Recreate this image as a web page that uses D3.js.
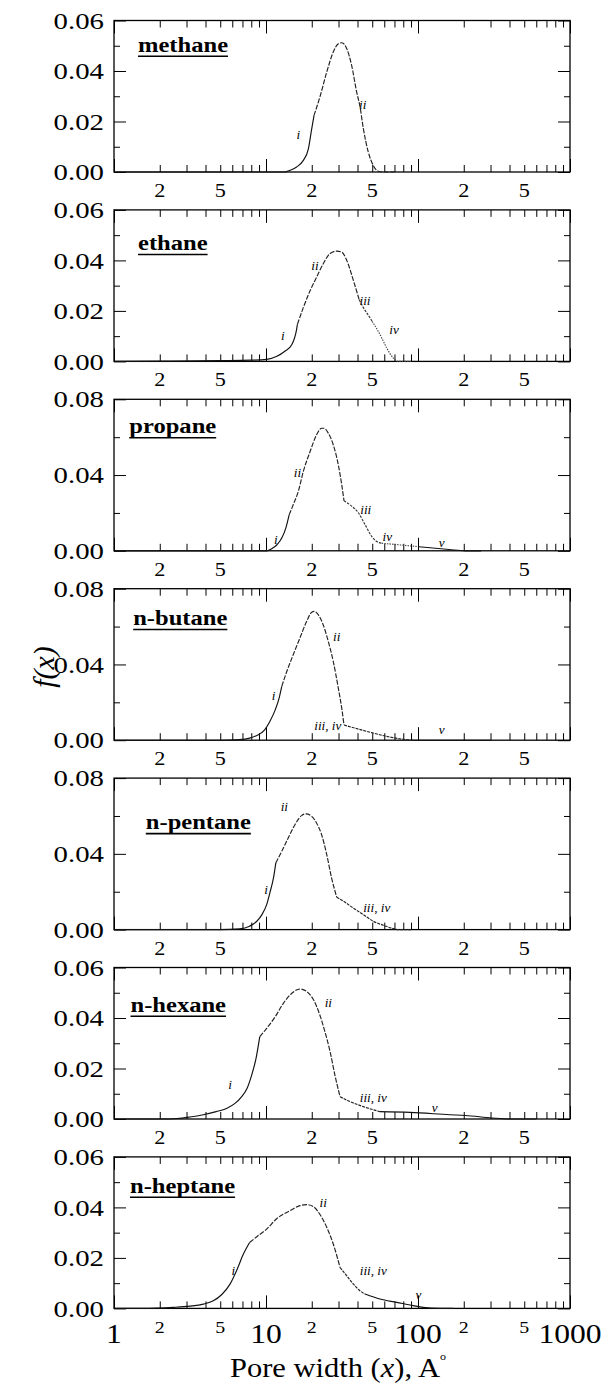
<!DOCTYPE html>
<html>
<head>
<meta charset="utf-8">
<script src="https://cdn.jsdelivr.net/npm/d3@7"></script>
<style>
  html, body { margin: 0; padding: 0; background: #fff; }
  svg { display: block; }
  text { font-family: "Liberation Serif", "Times New Roman", serif; fill: #000; }
</style>
</head>
<body>
<svg id="chart" width="603" height="1383"></svg>
<script>
// ---- data -------------------------------------------------------------
// Pore size distributions f(x) versus pore width x (Angstrom), one panel per gas.
const gases = ["methane", "ethane", "propane", "n-butane", "n-pentane", "n-hexane", "n-heptane"];
const yMax  = [0.06, 0.06, 0.08, 0.08, 0.08, 0.06, 0.06];

// y-axis tick values
const yLabelled06 = [0, 0.02, 0.04, 0.06];
const yMinor06    = [0.01, 0.03, 0.05];
const yLabelled08 = [0, 0.04, 0.08];
const yMinor08    = [0.02, 0.06];

// x-axis tick labels
const decadeValues  = [1, 10, 100, 1000];
const decadeLabels  = ["1", "10", "100", "1000"];
const midValues     = [2, 5, 20, 50, 200, 500];
const midLabels     = ["2", "5", "2", "5", "2", "5"];

// curve points [x, f(x)], regime boundaries and regime names
const methanePts = [[1,0],[10,0],[13.3,0],[14.4,0.0007],[15.9,0.002],[17.6,0.0046],[19.0,0.0092],[20.0,0.0172],[20.7,0.0224],
  [22.7,0.030],[25.1,0.0396],[27.7,0.0475],[29.9,0.0508],[31.5,0.0512],[34.0,0.0488],[36.6,0.0422],[39.5,0.0316],[41.5,0.026],
  [43.7,0.0172],[47.1,0.0079],[50.8,0.0026],[54.8,0.0003],[59,0],[70,0]];
const methaneBreaks = [20.7];
const methaneSegs = ["i", "ii"];
const methaneTags = [["i", 16.3, 0.0147], ["ii", 43.3, 0.0265]];

const ethanePts = [[1,0],[2,0.0001],[5,0.0003],[8,0.0005],[10.1,0.0008],[11.8,0.002],[13.3,0.004],[14.8,0.0067],[15.9,0.0127],[16.1,0.0147],
  [17.6,0.0213],[19.5,0.028],[21.5,0.0333],[23.8,0.0387],[26.4,0.0427],[29.2,0.0437],[31.5,0.0433],[34,0.040],[37.6,0.032],[41.1,0.0243],
  [43.7,0.0213],[48.3,0.0173],[50,0.0158],
  [56.2,0.0107],[62.3,0.0053],[68.8,0.0013],[74.2,0],[90,0]];
const ethaneBreaks = [16.1, 41.1, 50];
const ethaneSegs = ["i", "ii", "iii", "iv"];
const ethaneTags = [["i", 12.9, 0.0098], ["ii", 21, 0.0375], ["iii", 44.8, 0.0236], ["iv", 69.5, 0.0124]];

const propanePts = [[1,0],[10.1,0],[10.9,0.0011],[11.8,0.0032],[12.7,0.0067],[13.5,0.012],[14.2,0.019],
  [15.1,0.0243],[16.3,0.0313],[17.6,0.0419],[19.5,0.0524],[21.5,0.0612],[23.2,0.0647],[24.1,0.0647],[25.7,0.0621],[27.7,0.056],
  [29.9,0.0454],[31.5,0.0348],[32.6,0.0264],
  [36.6,0.0236],[40.5,0.0201],[44.8,0.0139],[49.6,0.0076],[53.5,0.0049],[57.7,0.004],
  [76.2,0.0031],[100,0.0022],
  [120,0.0016],[160,0.0007],[205,0],[260,0]];
const propaneBreaks = [14.2, 32.6, 57.7, 100];
const propaneSegs = ["i", "ii", "iii", "iv", "v"];
const propaneTags = [["i", 11.6, 0.0057], ["ii", 16.1, 0.041], ["iii", 45.3, 0.0215], ["iv", 62.8, 0.0069], ["v", 143, 0.004]];

const butanePts = [[1,0],[5,0],[6.7,0.0003],[7.8,0.0011],[8.9,0.0029],[9.8,0.0055],[10.6,0.0099],[11.5,0.016],[12.2,0.0222],[12.7,0.0284],
  [13.7,0.0363],[15.1,0.0451],[16.7,0.0539],[18.5,0.0627],[20.0,0.0676],[20.7,0.068],[22.1,0.0662],[23.8,0.0609],[25.7,0.0521],
  [27.7,0.0416],[29.9,0.0275],[31.5,0.0169],[32.6,0.008],
  [45.9,0.0047],[62.2,0.002],[80,0.0005],[93,0],
  [300,0]];
const butaneBreaks = [12.7, 32.6, 93];
const butaneSegs = ["i", "ii", "iii, iv", "v"];
const butaneTags = [["i", 11.2, 0.023], ["ii", 29.2, 0.0541], ["iii, iv", 25.5, 0.0071], ["v", 143, 0.0054]];

const pentanePts = [[1,0],[5,0],[6.7,0.0004],[7.8,0.0018],[8.7,0.0044],[9.4,0.0079],[10.1,0.0132],[10.6,0.0194],[11.2,0.0273],[11.6,0.0352],
  [12.7,0.0414],[14.0,0.0484],[15.5,0.0554],[17.2,0.0603],[18.3,0.0611],[20.0,0.0598],[21.5,0.0563],[23.2,0.0502],[25.1,0.0396],
  [27.0,0.0273],[29.2,0.0171],
  [32.3,0.015],[37.5,0.0114],[43.7,0.0079],[50.8,0.0044],[59.1,0.0023],[68.8,0.0005],[74.2,0],[90,0]];
const pentaneBreaks = [11.6, 29.2];
const pentaneSegs = ["i", "ii", "iii, iv"];
const pentaneTags = [["i", 10, 0.0209], ["ii", 13.2, 0.0646], ["iii, iv", 53.5, 0.0112]];

const hexanePts = [[1,0],[2,0],[2.6,0.0002],[3.16,0.0008],[3.87,0.0017],[4.7,0.0029],[5.5,0.0042],[6.25,0.0062],[6.9,0.0088],
  [7.5,0.0121],[8.05,0.0174],[8.6,0.024],[9.1,0.0326],
  [10.1,0.0359],[11.5,0.0405],[13.0,0.0458],[14.8,0.0498],[16.7,0.0515],[18.5,0.0505],[20.5,0.0473],[22.6,0.0412],[24.4,0.0346],
  [26.4,0.0267],[28.4,0.0174],[30.7,0.0088],
  [35.7,0.0069],[43.7,0.0049],[56.2,0.0029],
  [88.5,0.0026],[162,0.0017],[205,0.0014],[307,0.0004],[400,0],[600,0]];
const hexaneBreaks = [9.1, 30.7, 56.2];
const hexaneSegs = ["i", "ii", "iii, iv", "v"];
const hexaneTags = [["i", 5.8, 0.0135], ["ii", 25.7, 0.0458], ["iii, iv", 50.8, 0.0082], ["v", 129, 0.0042]];

const heptanePts = [[1,0],[1.5,0],[1.91,0.0001],[2.46,0.0004],[3.16,0.0009],[3.87,0.0017],[4.5,0.003],[5.1,0.0054],[5.8,0.0096],
  [6.4,0.0149],[7.1,0.0215],[7.8,0.0261],
  [8.7,0.0284],[10.1,0.0314],[11.7,0.0354],[14.4,0.0387],[16.7,0.0407],[18.5,0.0411],[20.5,0.0403],[22.6,0.0373],[25.1,0.0321],
  [27.7,0.0255],[30.7,0.0162],
  [34.0,0.0129],[37.6,0.0096],[41.5,0.007],[44.8,0.0057],
  [56.2,0.0037],[72.4,0.0024],[93,0.0011],[108,0.0004],[138,0],[170,0]];
const heptaneBreaks = [7.8, 30.7, 44.8];
const heptaneSegs = ["i", "ii", "iii, iv", "v"];
const heptaneTags = [["i", 6.1, 0.0145], ["ii", 23.8, 0.0416], ["iii, iv", 50.8, 0.0145], ["v", 100.5, 0.0053]];

// ---- layout -------------------------------------------------------------
const plotLeft = 114, plotRight = 570;
const panelTop0 = 20.5, panelStep = 189.4, panelH = 151.5;
const titleX = [138, 138, 129.3, 133.2, 145.8, 130.5, 130];
const titleDy = [31.2, 40.1, 34, 36.3, 51, 44.2, 35.8];
const stretch = 1.17;   // type is set slightly wide

const segDash = { "i": null, "ii": "5,1.5", "iii": "2.5,1.2", "iv": "1.4,1.2", "iii, iv": "3,1", "v": null };
const segColor = { "i": "#111", "ii": "#222", "iii": "#333", "iv": "#444", "iii, iv": "#222", "v": "#111" };

const panels = [
  { pts: methanePts, breaks: methaneBreaks, segs: methaneSegs, tags: methaneTags },
  { pts: ethanePts,  breaks: ethaneBreaks,  segs: ethaneSegs,  tags: ethaneTags },
  { pts: propanePts, breaks: propaneBreaks, segs: propaneSegs, tags: propaneTags },
  { pts: butanePts,  breaks: butaneBreaks,  segs: butaneSegs,  tags: butaneTags },
  { pts: pentanePts, breaks: pentaneBreaks, segs: pentaneSegs, tags: pentaneTags },
  { pts: hexanePts,  breaks: hexaneBreaks,  segs: hexaneSegs,  tags: hexaneTags },
  { pts: heptanePts, breaks: heptaneBreaks, segs: heptaneSegs, tags: heptaneTags }
];

const svg = d3.select("#chart");
const x = d3.scaleLog().domain([1, 1000]).range([plotLeft, plotRight]);
const allXTicks = x.ticks();
const xMajor = allXTicks.filter(v => decadeValues.includes(v));
const xMinor = allXTicks.filter(v => !decadeValues.includes(v));

// text set with a horizontal stretch about its anchor point
function wideText(parent, px, py, str, size, opts = {}) {
  const sx = opts.sx || stretch;
  const t = parent.append("text")
    .attr("transform", `translate(${px},${py}) scale(${sx},1)`)
    .attr("font-size", size)
    .attr("text-anchor", opts.anchor || "middle")
    .text(str);
  if (opts.weight) t.attr("font-weight", opts.weight);
  if (opts.italic) t.attr("font-style", "italic");
  if (opts.dy) t.attr("dy", opts.dy);
  return t;
}

function stripDomain(sel) { sel.select(".domain").remove(); sel.selectAll("text").remove(); }

panels.forEach((p, i) => {
  const top = panelTop0 + i * panelStep;
  const bot = top + panelH;
  const y = d3.scaleLinear().domain([0, yMax[i]]).range([bot, top]);
  const labelled = yMax[i] === 0.06 ? yLabelled06 : yLabelled08;
  const minor = yMax[i] === 0.06 ? yMinor06 : yMinor08;
  const g = svg.append("g");

  // inward ticks on all four sides
  const tk = (axis, tx, ty) => g.append("g").attr("transform", `translate(${tx},${ty})`)
    .call(axis).call(stripDomain)
    .selectAll("line").attr("stroke", "#000").attr("stroke-width", 1);
  tk(d3.axisBottom(x).tickValues(xMinor).tickSize(-7), 0, bot);
  tk(d3.axisBottom(x).tickValues(xMajor).tickSize(-13), 0, bot);
  tk(d3.axisTop(x).tickValues(xMinor).tickSize(-7), 0, top);
  tk(d3.axisTop(x).tickValues(xMajor).tickSize(-13), 0, top);
  tk(d3.axisLeft(y).tickValues(labelled).tickSize(-12), plotLeft, 0);
  tk(d3.axisLeft(y).tickValues(minor).tickSize(-6), plotLeft, 0);
  tk(d3.axisRight(y).tickValues(labelled).tickSize(-12), plotRight, 0);
  tk(d3.axisRight(y).tickValues(minor).tickSize(-6), plotRight, 0);

  // frame
  g.append("rect")
    .attr("x", plotLeft).attr("y", top)
    .attr("width", plotRight - plotLeft).attr("height", panelH)
    .attr("fill", "none").attr("stroke", "#000").attr("stroke-width", 1.3);

  // y tick labels
  labelled.forEach(v => {
    wideText(g, plotLeft - 10, y(v), d3.format(".2f")(v), 24, { anchor: "end", dy: "0.34em", sx: 1.2 });
  });

  // x tick labels
  const last = i === panels.length - 1;
  midValues.forEach((v, k) => {
    wideText(g, x(v), bot + 25, midLabels[k], last ? 17 : 19);
  });
  if (last) {
    decadeValues.forEach((v, k) => wideText(g, x(v), bot + 35, decadeLabels[k], 27));
  }

  // curve, one path per regime
  const line = d3.line().x(d => x(d[0])).y(d => y(d[1])).curve(d3.curveMonotoneX);
  let start = 0;
  const cuts = p.breaks.map(b => p.pts.findIndex(d => d[0] === b));
  cuts.concat([p.pts.length - 1]).forEach((end, k) => {
    const seg = p.pts.slice(start, end + 1);
    const name = p.segs[k];
    const path = g.append("path")
      .attr("d", line(seg))
      .attr("fill", "none")
      .attr("stroke", segColor[name])
      .attr("stroke-width", 1.15);
    if (segDash[name]) path.attr("stroke-dasharray", segDash[name]);
    start = end;
  });

  // regime tags
  p.tags.forEach(t => {
    wideText(g, x(t[1]), y(t[2]), t[0], 11.5, { italic: true, dy: "0.32em", sx: 1.15 });
  });

  // panel title, bold and underlined
  const tx = titleX[i], ty = top + titleDy[i];
  const title = wideText(g, tx, ty, gases[i], 21, { anchor: "start", weight: "bold" });
  const len = title.node().getComputedTextLength() * stretch;
  g.append("line")
    .attr("x1", tx).attr("x2", tx + len)
    .attr("y1", ty + 4.5).attr("y2", ty + 4.5)
    .attr("stroke", "#000").attr("stroke-width", 1.6);
});

// axis titles
const xt = svg.append("text")
  .attr("transform", `translate(${(plotLeft + plotRight) / 2 - 4},1377) scale(1.09,1)`)
  .attr("font-size", 28)
  .attr("text-anchor", "middle");
xt.append("tspan").text("Pore width (");
xt.append("tspan").attr("font-style", "italic").text("x");
xt.append("tspan").text("), A");
xt.append("tspan").attr("font-size", 11).attr("dy", -17).text("o");

svg.append("text")
  .attr("transform", "translate(45,667) rotate(-90)")
  .attr("font-size", 30)
  .attr("font-style", "italic")
  .attr("text-anchor", "middle")
  .attr("dy", "0.3em")
  .text("f(x)");
</script>
</body>
</html>
